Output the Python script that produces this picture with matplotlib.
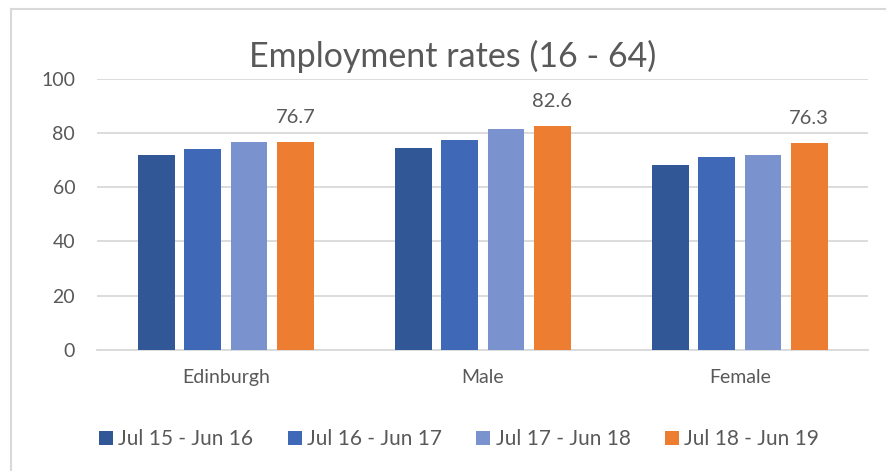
import matplotlib
matplotlib.use("Agg")
import matplotlib.pyplot as plt
from matplotlib.lines import Line2D
from matplotlib.patches import Patch
import numpy as np

categories = ["Edinburgh", "Male", "Female"]
periods = ["Jul 15 - Jun 16", "Jul 16 - Jun 17", "Jul 17 - Jun 18", "Jul 18 - Jun 19"]

# employment rate (%) per period, in category order
jul15_jun16 = [71.8, 74.3, 68.0]
jul16_jun17 = [74.1, 77.4, 71.1]
jul17_jun18 = [76.8, 81.6, 72.0]
jul18_jun19 = [76.7, 82.6, 76.3]

colors = ["#325797", "#3F69B7", "#7A92CE", "#ED7D31"]
grey_text = "#595959"
grid_col = "#D9D9D9"

plt.rcParams["font.family"] = ["Lato", "DejaVu Sans"]

fig = plt.figure(figsize=(8.86, 4.71), dpi=100)
ax = fig.add_axes([0.110, 0.2575, 0.870, 0.5755])

x = np.arange(len(categories))
width = 0.143
pitch = 0.18
series = [jul15_jun16, jul16_jun17, jul17_jun18, jul18_jun19]
for i, vals in enumerate(series):
    off = (i - 1.5) * pitch
    bars = ax.bar(x + off, vals, width, color=colors[i], zorder=3)
    if i == 3:
        for b, v in zip(bars, vals):
            ax.annotate(f"{v:.1f}", (b.get_x() + b.get_width() / 2, v),
                        xytext=(0, 13.7), textcoords="offset points",
                        ha="center", va="baseline", fontsize=14.5, color=grey_text)

ax.set_xlim(-0.5, 2.5)
ax.set_ylim(0, 100)
ax.set_yticks([0, 20, 40, 60, 80, 100])
ax.set_xticks(x)
ax.set_xticklabels(categories)
ax.tick_params(axis="both", length=0, labelsize=14, labelcolor=grey_text)
ax.tick_params(axis="y", pad=16)
ax.tick_params(axis="x", pad=14)
ax.yaxis.grid(True, color=grid_col, linewidth=1.3, zorder=0)
for s in ["top", "right", "left"]:
    ax.spines[s].set_visible(False)
ax.spines["bottom"].set_color(grid_col)
ax.spines["bottom"].set_linewidth(1.3)

fig.text(0.511, 0.881, "Employment rates (16 - 64)", ha="center", va="center",
         fontsize=24.5, color=grey_text)

handles = [Patch(facecolor=c) for c in colors]
fig.legend(handles, periods, loc="center", bbox_to_anchor=(0.518, 0.068), ncol=4,
           frameon=False, fontsize=15, labelcolor=grey_text,
           handlelength=0.68, handleheight=0.68, handletextpad=0.25,
           columnspacing=1.65, borderpad=0)

# chart frame (only top and left edges are visible in the crop)
fig.add_artist(Line2D([0.0124, 1.0], [0.981, 0.981], color=grid_col, linewidth=1.5))
fig.add_artist(Line2D([0.0124, 0.0124], [0.0, 0.981], color=grid_col, linewidth=1.5))

fig.savefig("out.png", dpi=100)
